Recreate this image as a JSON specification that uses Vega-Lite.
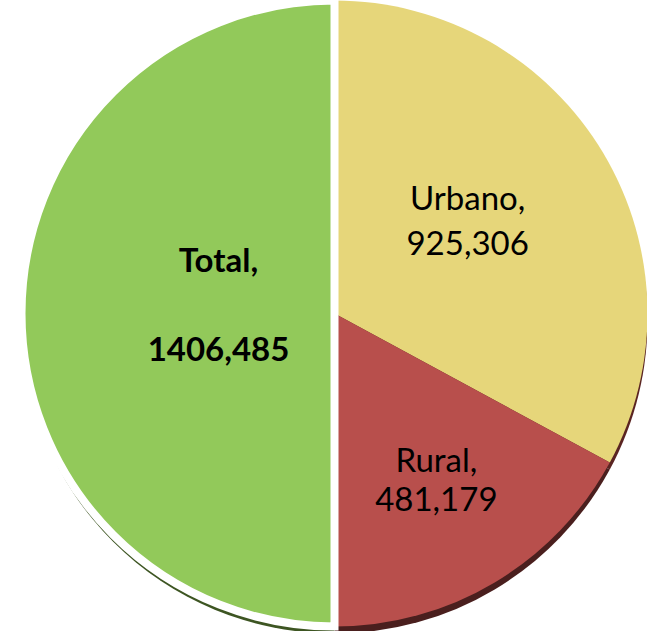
{
  "$schema": "https://vega.github.io/schema/vega-lite/v6.json",
  "width": 647,
  "height": 631,
  "autosize": {"type": "fit", "contains": "padding"},
  "padding": {"left": 16, "top": 0, "right": 0, "bottom": 4},
  "background": "white",
  "view": {"stroke": null},
  "data": {
    "values": [
      {"category": "Urbano", "value": 925306, "label": "Urbano,|925,306"},
      {"category": "Rural", "value": 481179, "label": "Rural,|481,179"},
      {"category": "Total", "value": 1406485, "label": "Total,|1406,485"}
    ]
  },
  "transform": [
    {"calculate": "indexof(['Urbano','Rural','Total'], datum.category)", "as": "rank"}
  ],
  "encoding": {
    "theta": {"field": "value", "type": "quantitative", "stack": true},
    "order": {"field": "rank", "type": "quantitative", "sort": "ascending"}
  },
  "layer": [
    {
      "mark": {"type": "arc", "outerRadius": 313, "yOffset": 7},
      "encoding": {
        "fill": {
          "field": "category", "type": "nominal",
          "scale": {"domain": ["Urbano", "Rural", "Total"], "range": ["#5a2422", "#4a1f1e", "#3d5522"]},
          "legend": null
        }
      }
    },
    {
      "mark": {"type": "arc", "outerRadius": 313, "stroke": "white"},
      "encoding": {
        "color": {
          "field": "category", "type": "nominal",
          "scale": {"domain": ["Urbano", "Rural", "Total"], "range": ["#e6d67a", "#b84f4c", "#92c95a"]},
          "legend": null
        },
        "strokeWidth": {
          "condition": {"test": "datum.category === 'Total'", "value": 8},
          "value": 0
        }
      }
    },
    {
      "mark": {"type": "text", "radius": 116, "font": "Lato", "fontSize": 33, "fontWeight": "bold", "lineBreak": "|", "lineHeight": 89, "align": "center", "baseline": "middle", "dy": -52, "color": "black"},
      "encoding": {
        "text": {"condition": {"test": "datum.category === 'Total'", "field": "label"}, "value": ""}
      }
    },
    {
      "mark": {"type": "text", "radius": 155, "font": "Lato", "fontSize": 33, "lineBreak": "|", "lineHeight": 45, "align": "center", "baseline": "middle", "dy": -34, "color": "black"},
      "encoding": {
        "text": {"condition": {"test": "datum.category === 'Urbano'", "field": "label"}, "value": ""}
      }
    },
    {
      "mark": {"type": "text", "radius": 199, "font": "Lato", "fontSize": 33, "lineBreak": "|", "lineHeight": 39, "align": "center", "baseline": "middle", "dy": -22, "color": "black"},
      "encoding": {
        "text": {"condition": {"test": "datum.category === 'Rural'", "field": "label"}, "value": ""}
      }
    }
  ],
  "resolve": {"scale": {"color": "independent", "fill": "independent"}}
}
